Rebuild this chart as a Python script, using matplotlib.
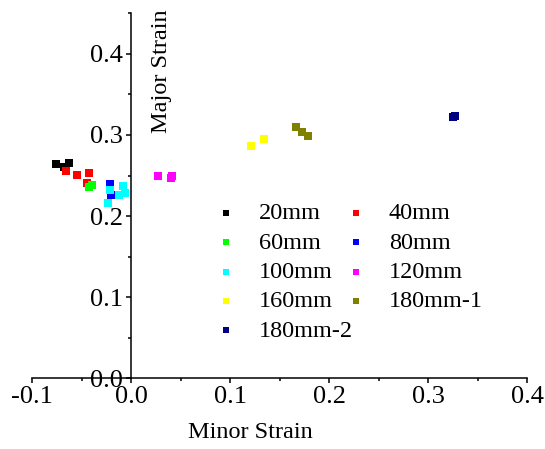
import matplotlib.pyplot as plt
from matplotlib.ticker import MultipleLocator

plt.rcParams['font.family'] = ['Liberation Serif', 'DejaVu Serif']

# minor / major strain pairs for each specimen width
labels = ['20mm', '40mm', '60mm', '80mm', '100mm', '120mm', '160mm', '180mm-1', '180mm-2']
colors = ['#000000', '#FF0000', '#00FF00', '#0000FF', '#00FFFF', '#FF00FF', '#FFFF00', '#808000', '#000080']

minor_20 = [-0.076, -0.068, -0.063]
major_20 = [0.264, 0.260, 0.265]
minor_40 = [-0.066, -0.055, -0.043, -0.045]
major_40 = [0.256, 0.251, 0.253, 0.241]
minor_60 = [-0.043, -0.040]
major_60 = [0.236, 0.238]
minor_80 = [-0.021, -0.020]
major_80 = [0.240, 0.226]
minor_100 = [-0.021, -0.008, -0.006, -0.012, -0.023]
major_100 = [0.232, 0.237, 0.228, 0.226, 0.216]
minor_120 = [0.027, 0.040, 0.041]
major_120 = [0.249, 0.247, 0.249]
minor_160 = [0.121, 0.134]
major_160 = [0.286, 0.295]
minor_180_1 = [0.167, 0.173, 0.179]
major_180_1 = [0.310, 0.304, 0.299]
minor_180_2 = [0.325, 0.327]
major_180_2 = [0.322, 0.323]

minors = [minor_20, minor_40, minor_60, minor_80, minor_100, minor_120, minor_160, minor_180_1, minor_180_2]
majors = [major_20, major_40, major_60, major_80, major_100, major_120, major_160, major_180_1, major_180_2]

fig = plt.figure(figsize=(5.45, 4.49), dpi=100)
ax = fig.add_axes([0.059, 0.158, 0.908, 0.812])

handles = []
for xs, ys, lab, col in zip(minors, majors, labels, colors):
    h = ax.scatter(xs, ys, marker='s', s=32, color=col, linewidths=0, label=lab)
    handles.append(h)

ax.set_xlim(-0.1, 0.4)
ax.set_ylim(0, 0.45)

# axes cross at the origin
ax.spines['left'].set_position(('data', 0))
ax.spines['bottom'].set_position(('data', 0))
ax.spines['top'].set_visible(False)
ax.spines['right'].set_visible(False)
for sp in ('left', 'bottom'):
    ax.spines[sp].set_linewidth(1.1)

ax.xaxis.set_major_locator(MultipleLocator(0.1))
ax.xaxis.set_minor_locator(MultipleLocator(0.05))
ax.yaxis.set_major_locator(MultipleLocator(0.1))
ax.yaxis.set_minor_locator(MultipleLocator(0.05))
ax.xaxis.set_major_formatter(lambda v, p: f'{v:.1f}')
ax.yaxis.set_major_formatter(lambda v, p: f'{v:.1f}')
ax.tick_params(which='major', direction='out', length=3.6, width=1.1, labelsize=19, pad=2)
ax.tick_params(which='minor', direction='out', length=2.2, width=1.1)

ax.set_xlabel('Minor Strain', fontsize=17.5)
ax.xaxis.set_label_coords(0.44, -0.12)
ax.set_ylabel('Major Strain', fontsize=17.5, va='center')
ax.yaxis.set_label_coords(0.261, 0.842)

# legend filled row by row like the original: reorder for column-wise fill
order = [0, 2, 4, 6, 8, 1, 3, 5, 7]
ax.legend([handles[i] for i in order], [labels[i] for i in order],
          ncol=2, frameon=False, fontsize=17.5, markerscale=0.75,
          loc='upper left', bbox_to_anchor=(0.373, 0.482),
          borderaxespad=0, borderpad=0, handlelength=0.8,
          handletextpad=0.95, columnspacing=-0.3, labelspacing=0.3)

fig.savefig('out.png', dpi=100)
